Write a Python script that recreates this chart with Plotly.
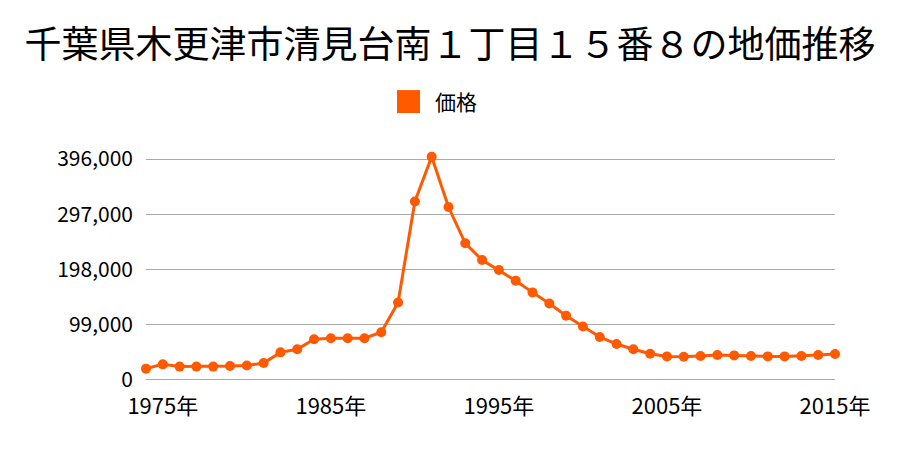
import plotly.graph_objects as go

years = list(range(1974, 2016))
prices = [20300, 28000, 24000, 24000, 24000, 25000, 26000, 30500, 49500, 55000,
          73000, 74800, 74800, 74800, 85500, 139000, 320000, 400000, 310000, 245000,
          215000, 197000, 178000, 157000, 137000, 115000, 96000, 77000, 64500, 55000,
          47000, 42300, 41700, 42900, 44700, 44100, 42900, 42300, 42300, 42900,
          44700, 46500]
y_ticks = [0, 99000, 198000, 297000, 396000]
x_ticks = [1975, 1985, 1995, 2005, 2015]
series_name = "価格"

color = "#ff5a00"
font = "Noto Sans CJK JP"

fig = go.Figure()
fig.add_trace(go.Scatter(
    x=years, y=prices, mode="lines+markers", name=series_name, showlegend=False,
    line=dict(color=color, width=3),
    marker=dict(color=color, size=10),
    cliponaxis=False,
))

# legend drawn as square + label (plot area: x 146..835, y 155..382 px)
fig.add_shape(type="rect", xref="paper", yref="paper",
              x0=0.3643, x1=0.3977, y0=1.185, y1=1.286,
              fillcolor=color, line=dict(width=0))
fig.add_annotation(text=series_name, xref="paper", yref="paper",
                   x=0.4165, y=1.238, xanchor="left", yanchor="middle",
                   showarrow=False, font=dict(size=21, family=font, color="#000"))

fig.update_layout(
    width=900, height=450,
    margin=dict(l=146, r=65, t=155, b=68),
    paper_bgcolor="white", plot_bgcolor="white",
    font=dict(family=font, color="#000"),
    title=dict(text="千葉県木更津市清見台南１丁目１５番８の地価推移",
               x=0.5, xanchor="center", y=0.9, yanchor="middle",
               font=dict(size=37, family=font)),
    showlegend=False,
    xaxis=dict(range=[1974, 2015], tickvals=x_ticks,
               ticktext=[f"{y}年" for y in x_ticks],
               showgrid=False, zeroline=False, showline=False,
               tickfont=dict(size=22), ticks="", ticklabelstandoff=9),
    yaxis=dict(range=[-3600, 403200], tickvals=y_ticks,
               ticktext=[f"{v:,}" for v in y_ticks],
               showgrid=True, gridcolor="#aaaaaa", gridwidth=1,
               zeroline=False, showline=False,
               tickfont=dict(size=21), ticks="", ticklabelstandoff=12),
)
fig.write_html("out.html")
